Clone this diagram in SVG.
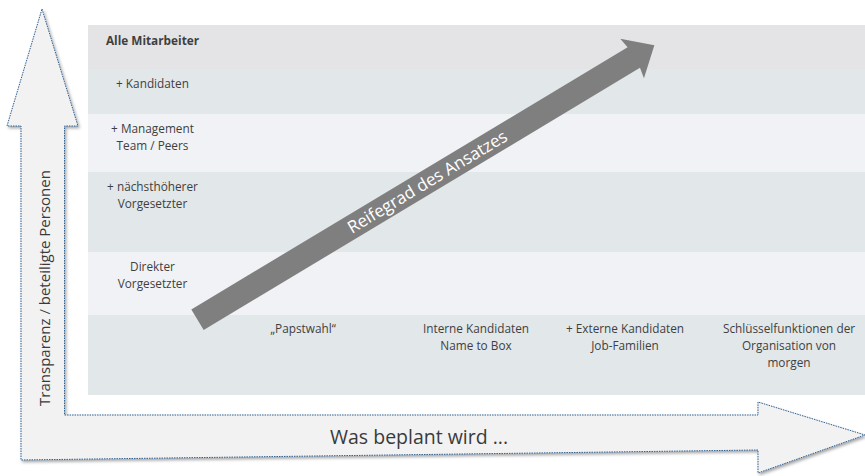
<svg xmlns="http://www.w3.org/2000/svg" width="865" height="476" viewBox="0 0 865 476">
  <defs>
    <filter id="shadow" x="-5%" y="-5%" width="110%" height="110%">
      <feDropShadow dx="1.5" dy="2" stdDeviation="1.5" flood-color="#000" flood-opacity="0.35"/>
    </filter>
  </defs>
  <style>
    .lbl { font-family: "Open Sans", "Liberation Sans", sans-serif; font-size: 11.8px; fill: #3f3f3f; text-anchor: middle; }
    .bold { font-weight: bold; }
    .bandA { fill: #e4e4e6; }
    .bandB { fill: #e2e7ea; }
    .bandC { fill: #f0f2f5; }
    .axis { fill: #f2f2f2; stroke: #2f5f8f; stroke-width: 1; stroke-dasharray: 1.5 1; }
    .axistext { font-family: "Open Sans", "Liberation Sans", sans-serif; fill: #3a3a3a; }
  </style>

  <g id="axes">
    <path class="axis" filter="url(#shadow)" d="M42,9 L78,126 L64.5,126 L64.5,415 L758,415 L758,402 L865,435 L758,473 L758,450 L21,460 L21,126 L7,126 Z"/>
    <text class="axistext" font-size="15" transform="translate(49.5,288) rotate(-90)" text-anchor="middle">Transparenz / beteiligte Personen</text>
    <text class="axistext" font-size="19.5" x="330" y="444">Was beplant wird ...</text>
  </g>

  <g id="bands">
    <rect class="bandA" x="88" y="25" width="777" height="44"/>
    <rect class="bandB" x="88" y="69" width="777" height="45"/>
    <rect class="bandC" x="88" y="114" width="777" height="58"/>
    <rect class="bandB" x="88" y="172" width="777" height="80"/>
    <rect class="bandC" x="88" y="252" width="777" height="63"/>
    <rect class="bandB" x="88" y="315" width="777" height="80"/>
  </g>

  <g id="row-labels">
    <g id="row-alle"><text class="lbl bold" x="152.5" y="44.5">Alle Mitarbeiter</text></g>
    <g id="row-kandidaten"><text class="lbl" x="152.5" y="87.5">+ Kandidaten</text></g>
    <g id="row-management"><text class="lbl" x="152.5" y="132.5">+ Management</text><text class="lbl" x="152.5" y="149.5">Team / Peers</text></g>
    <g id="row-naechst"><text class="lbl" x="152.5" y="190.5">+ nächsthöherer</text><text class="lbl" x="152.5" y="207.5">Vorgesetzter</text></g>
    <g id="row-direkt"><text class="lbl" x="152.5" y="270.5">Direkter</text><text class="lbl" x="152.5" y="287.5">Vorgesetzter</text></g>
  </g>

  <g id="col-labels">
    <g id="col-papst"><text class="lbl" x="303" y="332.5">„Papstwahl“</text></g>
    <g id="col-intern"><text class="lbl" x="476" y="332.5">Interne Kandidaten</text><text class="lbl" x="476" y="349.5">Name to Box</text></g>
    <g id="col-extern"><text class="lbl" x="625" y="332.5">+ Externe Kandidaten</text><text class="lbl" x="625" y="349.5">Job-Familien</text></g>
    <g id="col-schluessel"><text class="lbl" x="789" y="332.5">Schlüsselfunktionen der</text><text class="lbl" x="789" y="349.5">Organisation von</text><text class="lbl" x="789" y="366.5">morgen</text></g>
  </g>

  <g id="connectors">
    <g id="reifegrad" transform="translate(197.5,319.7) rotate(-31)">
      <path fill="#7f7f7f" d="M0,-12 L509,-12 L507,-23 L533,0 L507,23 L509,12 L0,12 Z"/>
      <text x="268" y="6" font-family="Open Sans, Liberation Sans, sans-serif" font-size="17" fill="#ffffff" text-anchor="middle">Reifegrad des Ansatzes</text>
    </g>
  </g>
</svg>
